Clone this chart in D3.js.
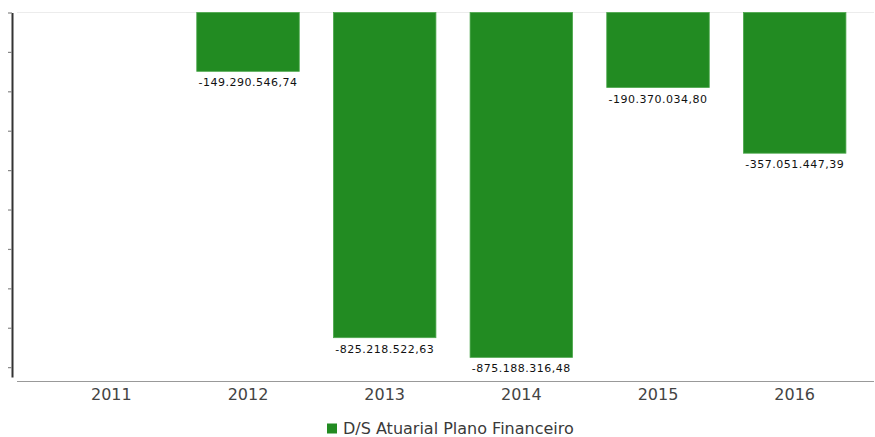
<!DOCTYPE html>
<html>
<head>
<meta charset="utf-8">
<script src="https://cdn.jsdelivr.net/npm/d3@7"></script>
<style>
  html, body { margin: 0; padding: 0; background: #fff; }
  svg { display: block; }
</style>
</head>
<body>
<svg id="chart" width="875" height="437"></svg>
<script>
// ---- data ----
const years = ["2011", "2012", "2013", "2014", "2015", "2016"];
const values = [null, -149290546.74, -825218522.63, -875188316.48, -190370034.80, -357051447.39];
const yTicks = [0, -1e8, -2e8, -3e8, -4e8, -5e8, -6e8, -7e8, -8e8, -9e8];
const seriesName = "D/S Atuarial Plano Financeiro";
const barColor = "#228B22";

const svg = d3.select("#chart");

const ptBR = d3.formatLocale({ decimal: ",", thousands: ".", grouping: [3], currency: ["R$", ""], minus: "-" });
const fmt = ptBR.format(",.2f");

const x = d3.scaleBand().domain(years).range([43, 863]).paddingInner(0.25).paddingOuter(0.125);
const y = d3.scaleLinear().domain([0, -925e6]).range([12.5, 377]);

// top gridline
svg.append("line")
  .attr("x1", 17).attr("x2", 874)
  .attr("y1", y(0)).attr("y2", y(0))
  .attr("stroke", "#ececec").attr("stroke-width", 1);

// y axis (labels clipped off)
const yAxis = svg.append("g")
  .attr("transform", "translate(12,0)")
  .call(d3.axisLeft(y).tickValues(yTicks).tickFormat("").tickSize(4).tickSizeOuter(0));
yAxis.select(".domain").attr("stroke", "#333").attr("stroke-width", 2);
yAxis.selectAll(".tick line").attr("stroke", "#888").attr("stroke-width", 1.2);

// bars
const data = years.map((yr, i) => ({ year: yr, value: values[i] })).filter(d => d.value !== null);

svg.append("g").selectAll("rect")
  .data(data).enter().append("rect")
  .attr("x", d => x(d.year))
  .attr("y", d => Math.min(y(0), y(d.value)))
  .attr("width", x.bandwidth())
  .attr("height", d => Math.abs(y(d.value) - y(0)))
  .attr("fill", barColor)
  .attr("stroke", "#4ea84e")
  .attr("stroke-width", 0.8);

// data labels
svg.append("g").selectAll("text")
  .data(data).enter().append("text")
  .attr("x", d => x(d.year) + x.bandwidth() / 2)
  .attr("y", d => y(d.value) + 15)
  .attr("text-anchor", "middle")
  .attr("font-family", "DejaVu Sans")
  .attr("font-size", 11)
  .attr("letter-spacing", 0.5)
  .attr("fill", "#111")
  .text(d => fmt(d.value));

// x axis
const xAxis = svg.append("g")
  .attr("transform", "translate(0,381.5)")
  .call(d3.axisBottom(x).tickSize(0).tickPadding(0));
xAxis.select(".domain").remove();
xAxis.append("line")
  .attr("x1", 17).attr("x2", 874).attr("y1", 0).attr("y2", 0)
  .attr("stroke", "#999").attr("stroke-width", 1);
xAxis.selectAll(".tick text")
  .attr("y", 18.5).attr("dy", null)
  .attr("font-family", "DejaVu Sans")
  .attr("font-size", 16)
  .attr("fill", "#444");

// legend
const leg = svg.append("g");
leg.append("rect").attr("x", 327).attr("y", 423.5).attr("width", 10).attr("height", 10).attr("fill", barColor);
leg.append("text").attr("x", 343).attr("y", 434)
  .attr("font-family", "DejaVu Sans").attr("font-size", 16).attr("fill", "#3a3a3a")
  .text(seriesName);
</script>
</body>
</html>
